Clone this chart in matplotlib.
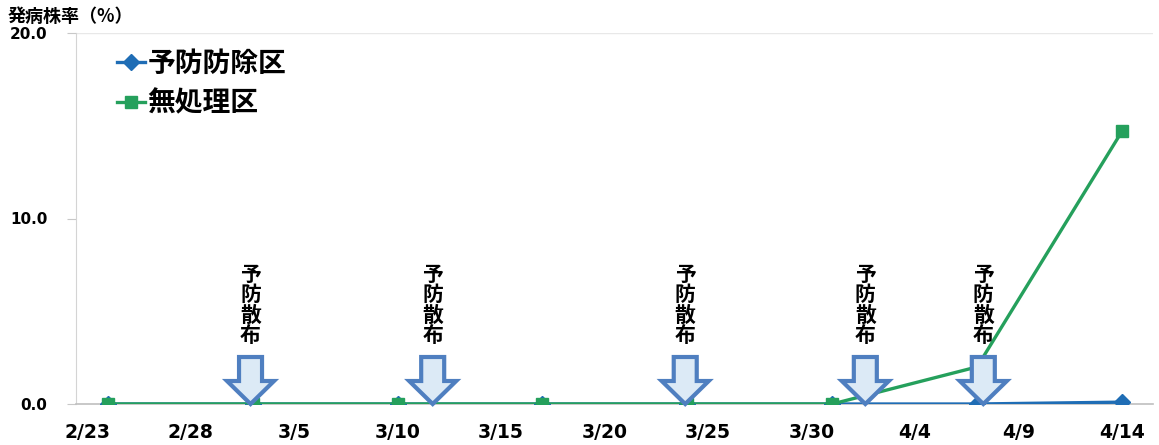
import datetime as dt
import numpy as np
import matplotlib
matplotlib.use("Agg")
import matplotlib.pyplot as plt
import matplotlib.dates as mdates
from matplotlib.patches import Polygon
import matplotlib.transforms as mtransforms

plt.rcParams['font.family'] = ['Noto Sans CJK JP', 'DejaVu Sans']

# ---- data ----
YEAR = 2015
series_names = ['予防防除区', '無処理区']
obs_dates = ['2/24', '3/3', '3/10', '3/17', '3/24', '3/31', '4/7', '4/14']
prevent_vals = [0.0, 0.0, 0.0, 0.0, 0.0, 0.0, 0.0, 0.1]
untreated_vals = [0.0, 0.0, 0.0, 0.0, 0.0, 0.0, 2.0, 14.7]
tick_labels = ['2/23', '2/28', '3/5', '3/10', '3/15', '3/20', '3/25', '3/30', '4/4', '4/9', '4/14']
y_ticks = [0.0, 10.0, 20.0]
spray_label = '予防散布'
ylabel_text = '発病株率（%）'


def to_date(s):
    m, d = s.split('/')
    return dt.datetime(YEAR, int(m), int(d))


x_dates = [to_date(s) for s in obs_dates]
tick_dates = [to_date(s) for s in tick_labels]

# annotation positions for spray arrows (days after first tick date)
spray_offsets = [7.9, 16.7, 28.9, 37.6, 43.3]

W, H = 1159, 445
fig = plt.figure(figsize=(W / 100, H / 100), dpi=100)
ax_left, ax_right, ax_top, ax_bot = 76, 1153, 33, 404
ax = fig.add_axes([ax_left / W, 1 - ax_bot / H, (ax_right - ax_left) / W, (ax_bot - ax_top) / H])

green = '#25a05c'
blue = '#1f6db5'
ax.plot(x_dates, prevent_vals, color=blue, lw=2.4, marker='D', ms=8, label=series_names[0], zorder=3)
ax.plot(x_dates, untreated_vals, color=green, lw=2.4, marker='s', ms=8, label=series_names[1], zorder=4)

# x scale: tick 2/23 at 87 px, 20.7 px per day
t0 = mdates.date2num(tick_dates[0])
ppd = (1122 - 87) / 50.0
ax.set_xlim(t0 - (87 - ax_left) / ppd, t0 + (ax_right - 87) / ppd)
ax.set_ylim(0, 20)

ax.set_xticks(tick_dates)
ax.set_xticklabels(tick_labels, fontsize=13.5, fontweight='bold', family=['DejaVu Sans'])
ax.tick_params(axis='x', length=0, pad=14)
ax.set_yticks(y_ticks)
ax.set_yticklabels([f'{v:.1f}' for v in y_ticks], fontsize=11, fontweight='bold', family=['DejaVu Sans'])
ax.tick_params(axis='y', length=6.5, color='#c8c8c8', pad=14)

for s in ['top', 'right']:
    ax.spines[s].set_visible(False)
ax.spines['left'].set_color('#d4d4d4')
ax.spines['bottom'].set_color('#bfbfbf')
ax.spines['bottom'].set_linewidth(1.2)
ax.axhline(20, color='#e8e8e8', lw=1, zorder=0)

# spray arrows
trans = mtransforms.blended_transform_factory(ax.transData, ax.transAxes)
ay = float(ax_bot - ax_top)
for off in spray_offsets:
    sx = t0 + off
    sw = 11.5 / ppd
    hw = 23.5 / ppd
    top = (ax_bot - 357) / ay
    hs = (ax_bot - 381) / ay
    pts = [(sx - sw, top), (sx + sw, top), (sx + sw, hs), (sx + hw, hs), (sx, 0.0),
           (sx - hw, hs), (sx - sw, hs)]
    poly = Polygon(pts, closed=True, transform=trans, facecolor='#dceaf6',
                   edgecolor='#4f7fc0', lw=3, zorder=6, clip_on=False)
    ax.add_patch(poly)
    ax.text(sx, (ax_bot - 346) / ay, '\n'.join(spray_label), transform=trans,
            ha='center', va='bottom', fontsize=15, fontweight='bold', linespacing=0.96,
            color='black', zorder=7)

leg = ax.legend(loc='upper left', bbox_to_anchor=((106 - ax_left) / (ax_right - ax_left), 0.985),
                frameon=False, prop={'size': 20, 'weight': 'bold'}, handlelength=1.0,
                handletextpad=0.1, labelspacing=0.42, borderaxespad=0)

fig.text(8 / W, 1 - 16 / H, ylabel_text, fontsize=13, fontweight='bold', va='center', ha='left')

fig.savefig('out.png', dpi=100)
